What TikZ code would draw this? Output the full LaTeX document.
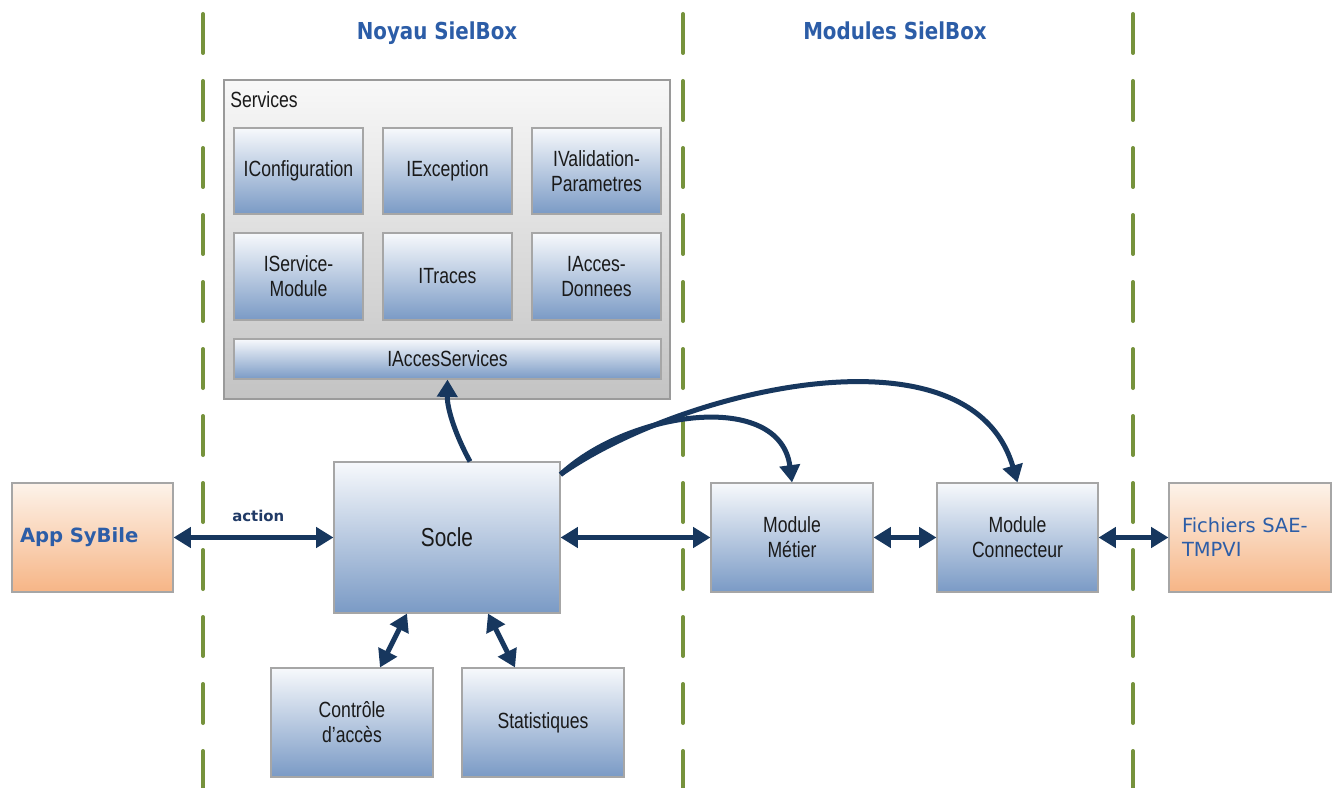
\documentclass[tikz,border=0pt]{standalone}
\usepackage{fontspec}
\setmainfont{Liberation Sans}
\newfontfamily\boxfont[FakeStretch=0.8]{Liberation Sans}
\newfontfamily\titlefont[FakeStretch=0.85]{DejaVu Sans}
\newfontfamily\appfont{DejaVu Sans}
\usetikzlibrary{arrows.meta}
\definecolor{navy}{HTML}{17375E}
\definecolor{titleblue}{HTML}{2C5DA7}
\definecolor{actionblue}{HTML}{203A66}
\definecolor{bluetop}{HTML}{F7F9FC}
\definecolor{bluebot}{HTML}{7A9AC5}
\definecolor{ortop}{HTML}{FDF3EA}
\definecolor{orbot}{HTML}{F6B586}
\definecolor{conttop}{HTML}{F8F8F8}
\definecolor{contbot}{HTML}{C3C3C3}
\definecolor{boxborder}{HTML}{A6A6A6}
\definecolor{contborder}{HTML}{9A9A9A}
\definecolor{divgreen}{HTML}{76923C}
\definecolor{labeltext}{HTML}{1A1A1A}
\begin{document}
\begin{tikzpicture}[x=0.75pt,y=-0.75pt,
  sz/.style 2 args={minimum width={#1*0.75pt},minimum height={#2*0.75pt}},
  bluebox/.style={draw=boxborder, line width=0.8pt, top color=bluetop, bottom color=bluebot,
    inner sep=0pt, align=center, text=labeltext,
    font=\boxfont\fontsize{16.5}{18.75}\selectfont},
  orangebox/.style={draw=boxborder, line width=0.8pt, top color=ortop, bottom color=orbot,
    align=left, text=titleblue},
  container/.style={draw=contborder, line width=0.8pt, top color=conttop, bottom color=contbot, inner sep=0pt},
  divider/.style={draw=divgreen, line width=3pt, line cap=round, dash pattern=on 29.25pt off 21pt},
  dbl/.style={draw=navy, line width=3.75pt,
    {Triangle[length=13pt,width=15pt]}-{Triangle[length=13pt,width=15pt]}},
  sgl/.style={draw=navy, line width=3.75pt, -{Triangle[length=13pt,width=15pt]}},
  title/.style={text=titleblue, anchor=base, font=\titlefont\bfseries\fontsize{17.5}{20}\selectfont},
  lbl/.style={text=actionblue, inner sep=0pt, font=\appfont\bfseries\fontsize{11.2}{13}\selectfont}
]
\useasboundingbox (0,0) rectangle (1338,788);
\fill[white] (0,0) rectangle (1338,788);

% dividers
\coordinate (d1t) at (203,14); \coordinate (d1b) at (203,800);
\coordinate (d2t) at (683,14); \coordinate (d2b) at (683,800);
\coordinate (d3t) at (1133,14); \coordinate (d3b) at (1133,800);
\begin{scope}
\clip (0,0) rectangle (1338,788);
\draw[divider] (d1t) -- (d1b);
\draw[divider] (d2t) -- (d2b);
\draw[divider] (d3t) -- (d3b);
\end{scope}

% titles
\node[title] (t1) at (437,40) {Noyau SielBox};
\node[title] (t2) at (895,40) {Modules SielBox};

% services container
\node[container, sz={446}{319}] (services) at (447,239.5) {};
\node[anchor=west, inner sep=0pt, text=labeltext, font=\boxfont\fontsize{16.5}{18.75}\selectfont] (servlbl) at (230,100) {Services};
\node[bluebox, sz={129}{86}] (iconf) at (298.5,171) {IConfiguration};
\node[bluebox, sz={129}{86}] (iexc) at (447.5,171) {IException};
\node[bluebox, sz={129}{86}] (ival) at (596.5,171) {IValidation-\\Parametres};
\node[bluebox, sz={129}{87}] (iserv) at (298.5,276.5) {IService-\\Module};
\node[bluebox, sz={129}{87}] (itr) at (447.5,276.5) {ITraces};
\node[bluebox, sz={129}{87}] (iaccd) at (596.5,276.5) {IAcces-\\Donnees};
\node[bluebox, sz={427}{40}] (iacc) at (447.5,359) {IAccesServices};

% main boxes
\node[bluebox, sz={226}{151}, font=\boxfont\fontsize{19.5}{22}\selectfont] (socle) at (447,537.5) {Socle};
\node[bluebox, sz={162}{109}] (metier) at (792,537.5) {Module\\Métier};
\node[bluebox, sz={161}{109}] (conn) at (1017.5,537.5) {Module\\Connecteur};
\node[bluebox, sz={162}{109}] (ctrl) at (352,722.5) {Contrôle\\d’accès};
\node[bluebox, sz={162}{109}] (stat) at (543,722.5) {Statistiques};

\node[orangebox, minimum height={109*0.75pt}, inner xsep=6pt, inner ysep=0pt, text width={145*0.75pt},
  font=\appfont\bfseries\fontsize{14.7}{17}\selectfont] (app) at (92.5,537.5) {App SyBile};
\node[orangebox, minimum height={109*0.75pt}, inner xsep=9.75pt, inner ysep=0pt, text width={136*0.75pt},
  font=\appfont\fontsize{14.6}{18}\selectfont] (fich) at (1250,537.5) {Fichiers SAE-\\TMPVI};

% connectors
\draw[dbl] (app) -- node[pos=0.53, above=10pt, lbl] {action} (socle);
\draw[dbl] (socle) -- (metier);
\draw[dbl] (metier) -- (conn);
\draw[dbl] (conn) -- (fich);
\draw[sgl] ([xshift=17.25pt]socle.north) .. controls (457,438) and (447,410) .. (iacc.south);
\draw[sgl] ([yshift=-9.75pt]socle.north east) .. controls (630,410) and (780,390) .. (metier.north);
\draw[sgl] ([yshift=-9.75pt]socle.north east) .. controls (680,390) and (970,320) .. (conn.north);
\draw[dbl] ([xshift=-30pt]socle.south) -- ([xshift=21pt]ctrl.north);
\draw[dbl] ([xshift=30.75pt]socle.south) -- ([xshift=-21pt]stat.north);
\end{tikzpicture}
\end{document}
